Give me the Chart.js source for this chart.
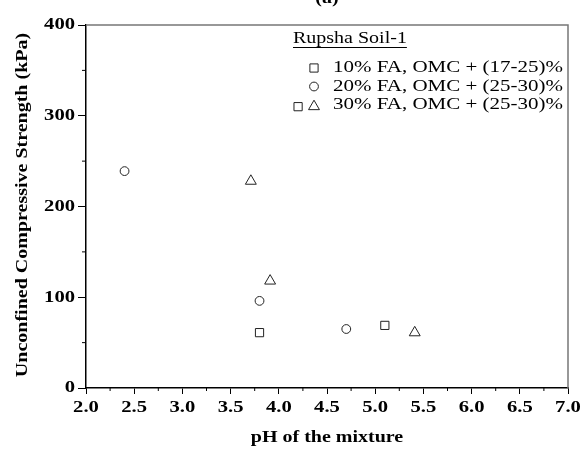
<!DOCTYPE html>
<html>
<head>
<meta charset="utf-8">
<script src="https://cdn.jsdelivr.net/npm/chart.js@4.4.0/dist/chart.umd.min.js"></script>
<style>
  html, body { margin: 0; padding: 0; background: #fff; }
  #wrap { width: 583px; height: 451px; position: relative; }
</style>
</head>
<body>
<div id="wrap"><canvas id="ucsChart"></canvas></div>
<script>
// data
var pH10  = [3.8, 5.1, 4.2];
var ucs10 = [61, 69, 310];
var pH20  = [2.4, 3.8, 4.7];
var ucs20 = [239, 96, 65];
var pH30  = [3.71, 3.91, 5.41];
var ucs30 = [228, 118, 61];

var xTicks = [2.0, 2.5, 3.0, 3.5, 4.0, 4.5, 5.0, 5.5, 6.0, 6.5, 7.0];
var yTicks = [0, 100, 200, 300, 400];
var seriesLabels = ['10% FA, OMC + (17-25)%', '20% FA, OMC + (25-30)%', '30% FA, OMC + (25-30)%'];

var SERIF = '"Liberation Serif", "Times New Roman", serif';
var STRETCH = 1.25;

function toPoints(xs, ys) {
    return xs.map(function (x, i) { return { x: x, y: ys[i] }; });
}

// text in the figure is wide, so scale it along its own direction
function wideText(ctx, text, x, y, font, align, rot) {
    ctx.save();
    ctx.font = font;
    ctx.fillStyle = '#000';
    ctx.textAlign = align;
    ctx.textBaseline = 'middle';
    ctx.translate(x, y);
    if (rot) ctx.rotate(rot);
    ctx.scale(STRETCH, 1);
    ctx.fillText(text, 0, 0);
    var w = ctx.measureText(text).width * STRETCH;
    ctx.restore();
    return w;
}

var markers = [
    { style: 'rect', radius: 5.8 },
    { style: 'circle', radius: 4.4 },
    { style: 'triangle', radius: 6.3 }
];

var decor = {
    id: 'decor',
    afterDraw: function (chart) {
        var ctx = chart.ctx;
        var a = chart.chartArea;
        var xs = chart.scales.x, ys = chart.scales.y;

        // grey top / right frame
        ctx.save();
        ctx.strokeStyle = '#777';
        ctx.lineWidth = 1.5;
        ctx.beginPath();
        ctx.moveTo(a.left, a.top);
        ctx.lineTo(a.right, a.top);
        ctx.lineTo(a.right, a.bottom);
        ctx.stroke();

        // minor ticks
        ctx.strokeStyle = '#000';
        ctx.lineWidth = 1;
        ctx.beginPath();
        for (var i = 0; i < xTicks.length - 1; i++) {
            var px = xs.getPixelForValue((xTicks[i] + xTicks[i + 1]) / 2);
            ctx.moveTo(px, a.bottom);
            ctx.lineTo(px, a.bottom + 3);
        }
        for (var j = 0; j < yTicks.length - 1; j++) {
            var py = ys.getPixelForValue((yTicks[j] + yTicks[j + 1]) / 2);
            ctx.moveTo(a.left, py);
            ctx.lineTo(a.left - 4, py);
        }
        ctx.stroke();
        ctx.restore();

        // tick labels
        var tickFont = 'bold 16.5px ' + SERIF;
        xTicks.forEach(function (v) {
            wideText(ctx, v.toFixed(1), xs.getPixelForValue(v), 408, tickFont, 'center');
        });
        yTicks.forEach(function (v) {
            wideText(ctx, String(v), 75, ys.getPixelForValue(v), tickFont, 'right');
        });

        // axis titles and panel label
        wideText(ctx, 'pH of the mixture', (a.left + a.right) / 2, 438, 'bold 16px ' + SERIF, 'center');
        wideText(ctx, 'Unconfined Compressive Strength (kPa)', 23, 205, 'bold 16px ' + SERIF, 'center', -Math.PI / 2);
        wideText(ctx, '(a)', (a.left + a.right) / 2, -1, 'bold 16px ' + SERIF, 'center');

        // legend
        var tw = wideText(ctx, 'Rupsha Soil-1', 293, 39, '16px ' + SERIF, 'left');
        ctx.save();
        ctx.strokeStyle = '#000';
        ctx.lineWidth = 1;
        ctx.beginPath();
        ctx.moveTo(293, 47.5);
        ctx.lineTo(293 + tw, 47.5);
        ctx.stroke();
        ctx.restore();

        var rowY = [68, 86.5, 105];
        seriesLabels.forEach(function (lab, k) {
            ctx.save();
            ctx.strokeStyle = '#222';
            ctx.fillStyle = '#fff';
            ctx.lineWidth = 1;
            Chart.helpers.drawPoint(ctx, { pointStyle: markers[k].style, radius: markers[k].radius, rotation: 0, borderWidth: 1 }, 314, rowY[k] + (k === 2 ? 1.5 : 0));
            ctx.restore();
            wideText(ctx, lab, 333, rowY[k], '16.8px ' + SERIF, 'left');
        });
    }
};

function dataset(label, xs, ys, k) {
    return {
        label: label,
        data: toPoints(xs, ys),
        pointStyle: markers[k].style,
        pointRadius: markers[k].radius,
        pointBorderColor: '#222',
        pointBackgroundColor: '#fff',
        pointBorderWidth: 1,
        showLine: false
    };
}

var ucsChart = new Chart(document.getElementById('ucsChart').getContext('2d'), {
    type: 'scatter',
    data: {
        datasets: [
            dataset(seriesLabels[0], pH10, ucs10, 0),
            dataset(seriesLabels[1], pH20, ucs20, 1),
            dataset(seriesLabels[2], pH30, ucs30, 2)
        ]
    },
    options: {
        responsive: true,
        maintainAspectRatio: false,
        animation: false,
        layout: { padding: { left: 0, right: 15, top: 25, bottom: 0 } },
        plugins: { legend: { display: false }, tooltip: { enabled: false } },
        scales: {
            x: {
                type: 'linear',
                min: 2, max: 7,
                ticks: { stepSize: 0.5, display: false },
                grid: { drawOnChartArea: false, drawTicks: true, tickLength: 6, color: '#000', lineWidth: 1 },
                border: { color: '#000', width: 1.5 },
                afterFit: function (s) { s.height = 63; }
            },
            y: {
                min: 0, max: 400,
                ticks: { stepSize: 100, display: false },
                grid: { drawOnChartArea: false, drawTicks: true, tickLength: 8, color: '#000', lineWidth: 1 },
                border: { color: '#000', width: 1.5 },
                afterFit: function (s) { s.width = 86; }
            }
        }
    },
    plugins: [decor]
});
</script>
</body>
</html>
